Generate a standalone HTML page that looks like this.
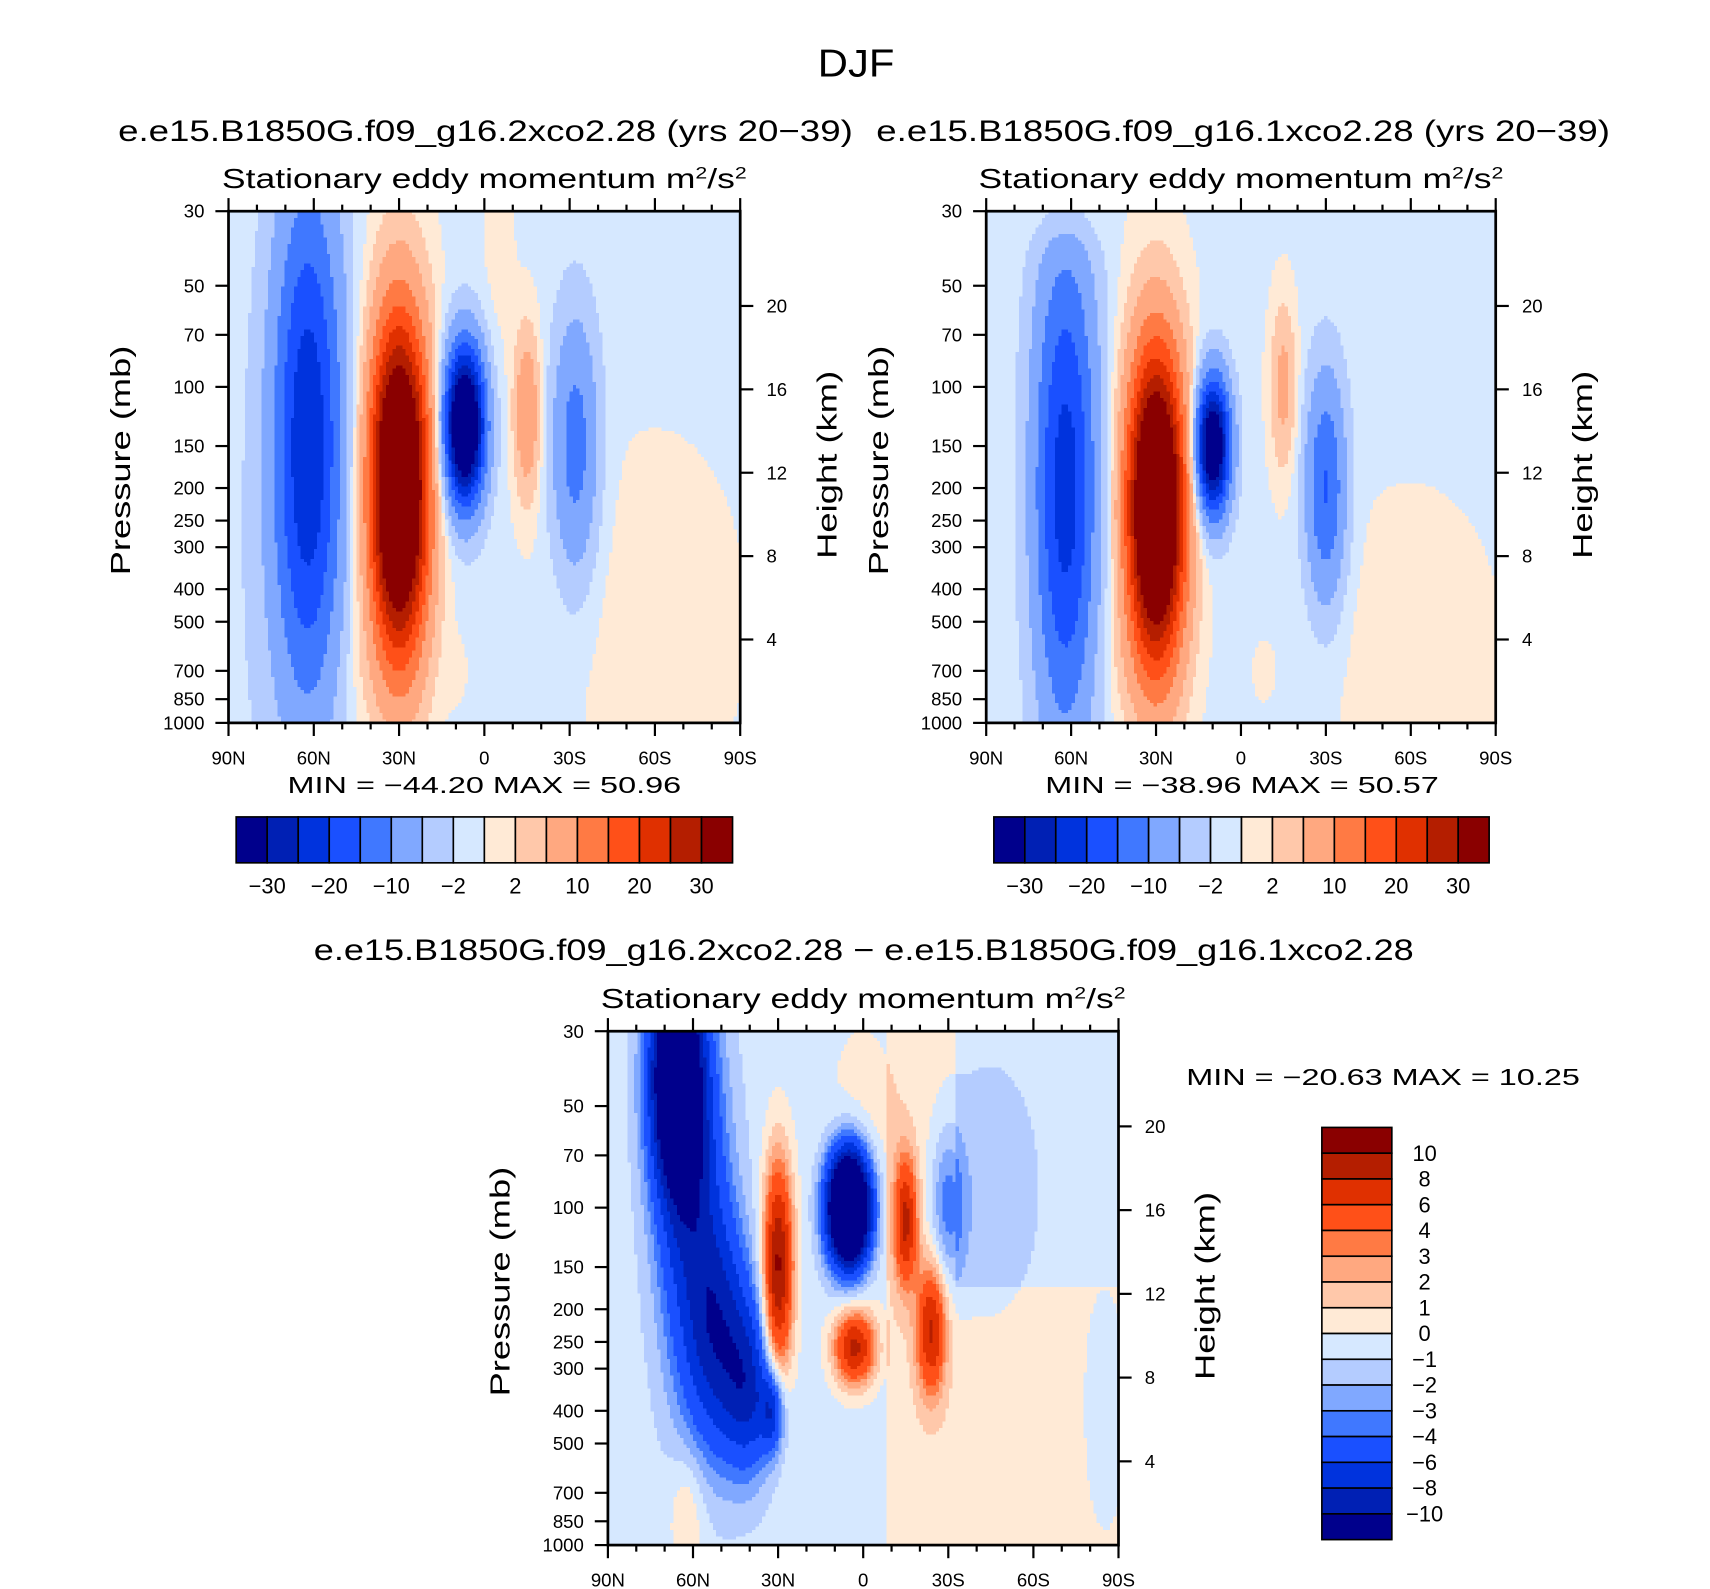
<!DOCTYPE html>
<html><head><meta charset="utf-8"><style>
html,body{margin:0;padding:0;background:#fff;}
svg{display:block;font-family:"Liberation Sans",sans-serif;}
</style></head><body>
<svg id="fig" width="1710" height="1589" viewBox="0 0 1564 1453">
<rect x="0" y="0" width="1564" height="1453" fill="#fff"/>
<text x="783" y="70" font-size="36" text-anchor="middle" textLength="70" lengthAdjust="spacingAndGlyphs">DJF</text>
<g id="panels"></g>
</svg>
<script>
// ---- data ----
const colors = ["#00008c","#0020b4","#0033dd","#1a50ff","#4078ff","#80a8ff","#b4ccff","#d6e8ff","#ffead6","#ffc8aa","#ffa880","#ff7a44","#ff5018","#e03000","#b41e00","#8a0000"];
const levelsTop = [-30,-25,-20,-15,-10,-5,-2,0,2,5,10,15,20,25,30];
const levelsDiff = [-10,-8,-6,-4,-3,-2,-1,0,1,2,3,4,6,8,10];
const topLabels = ["-30","-20","-10","-2","2","10","20","30"];
const diffLabels = ["10","8","6","4","3","2","1","0","-1","-2","-3","-4","-6","-8","-10"];
const latTicks = ["90N","60N","30N","0","30S","60S","90S"];
const presTicks = [30,50,70,100,150,200,250,300,400,500,700,850,1000];
const kmTicks = [20,16,12,8,4];
// Feature blobs: lat (deg N), pressure (mb), amplitude, lat half-width (deg), log-p half-width (fraction)
const lat2x = [62,30,7,-15,-32,-60,80,10,-5,45];
const p2x   = [150,200,130,120,150,500,400,700,40,700];
const amp2x = [-24,54,-46,10,-12,1.6,-1.2,1.2,1.2,1.0];
const slat2x= [12,10,7,4.5,8,30,12,4,6,8];
const sz2x  = [0.50,0.32,0.15,0.16,0.25,0.35,0.6,0.06,0.25,0.12];
const lat1x = [62,30,10,-15,-30,-60,62,-8,45];
const p1x   = [200,230,150,100,200,600,30,700,700];
const amp1x = [-22,54,-40,7,-15,1.6,4,1.2,1.0];
const slat1x= [11,10,6,4.5,7,30,12,4,8];
const sz1x  = [0.48,0.30,0.13,0.16,0.22,0.30,0.08,0.06,0.12];
const latD = [66,60,50,40,32,30,5,3,-15,-24,-30,0,-50,62,-45,-85];
const pD   = [40,100,250,350,400,150,100,260,110,230,100,70,400,800,100,400];
const ampD = [-16,-7,-7,-6,-6,11,-24,9,8,8,-3.5,1.3,0.3,1.8,-1.2,-1.0];
const slatD= [9,12,11,8,4,5,7.5,7,4,5,6,14,30,6,20,10];
const szD  = [0.22,0.35,0.22,0.16,0.08,0.2,0.11,0.07,0.12,0.12,0.15,0.25,0.4,0.12,0.3,0.3];
// ---- axis functions ----
const NS="http://www.w3.org/2000/svg";
function mk(tag,attrs,parent){const e=document.createElementNS(NS,tag);for(const k in attrs)e.setAttribute(k,attrs[k]);parent.appendChild(e);return e;}
const L0=Math.log(30),L1=Math.log(1000);
function zOf(p){return (Math.log(p)-L0)/(L1-L0);}
function field(lat,z,la,pa,am,sl,sz){let v=0;for(let i=0;i<la.length;i++){const dx=(lat-la[i])/sl[i],dz=(z-zOf(pa[i]))/sz[i];v+=am[i]*Math.exp(-dx*dx-dz*dz);}return v;}
function lev(v,levels){let k=0;while(k<levels.length&&v>=levels[k])k++;return k;}
const root=document.getElementById('panels');
function panel(name,X0,Y0,W,H,la,pa,am,sl,sz,levels,base){
  const g=mk('g',{},root);
  
  
  const xs=lat=>X0+(90-lat)/180*W, ys=p=>Y0+zOf(p)*H;
  const cg=mk('g',{'shape-rendering':'crispEdges'},g);
  
  
  const c=3;
  for(let y=0;y<H;y+=c){
    const z=(y+c/2)/H;let run=-1,start=0;
    for(let x=0;x<W+c;x+=c){
      let k=-2;
      if(x<W){const lat=90-Math.min(x+c/2,W)/W*180;k=lev(field(lat,z,la,pa,am,sl,sz)+base(lat,z),levels);}
      if(k!==run){if(run>=0){const r=mk('rect',{x:X0+start,y:Y0+y,width:Math.min(x,W)-start+0.4,height:Math.min(c,H-y)+0.4,fill:colors[run]},cg);
        
        }
        run=k;start=x;}
    }
  }
  mk('rect',{x:X0,y:Y0,width:W,height:H,fill:'none',stroke:'#000','stroke-width':2.5},g);
  for(let lat=90;lat>=-90;lat-=10){const x=xs(lat),maj=lat%30===0,l=maj?12:6;
    mk('line',{x1:x,x2:x,y1:Y0+H,y2:Y0+H+l,stroke:'#000','stroke-width':2},g);
    mk('line',{x1:x,x2:x,y1:Y0,y2:Y0-l,stroke:'#000','stroke-width':2},g);}
  latTicks.forEach((t,i)=>{const tx=mk('text',{x:X0+i/6*W,y:Y0+H+38,'font-size':17,'text-anchor':'middle'},g);tx.textContent=t;
    
    });
  presTicks.forEach(p=>{const y=ys(p);mk('line',{x1:X0-12,x2:X0,y1:y,y2:y,stroke:'#000','stroke-width':2},g);
    const tx=mk('text',{x:X0-22,y:y+6,'font-size':17,'text-anchor':'end'},g);tx.textContent=p;
    
    });
  kmTicks.forEach(k=>{const p=1000*Math.exp(-k/7);const y=ys(p);mk('line',{x1:X0+W,x2:X0+W+12,y1:y,y2:y,stroke:'#000','stroke-width':2},g);
    const tx=mk('text',{x:X0+W+24,y:y+6,'font-size':17},g);tx.textContent=k;
    
    });
  const yl=mk('text',{x:0,y:0,'font-size':25,'text-anchor':'middle',textLength:210,lengthAdjust:'spacingAndGlyphs',transform:`translate(${X0-90},${Y0+H/2-6}) rotate(-90)`},g);yl.textContent='Pressure  (mb)';
  
  
  const yr=mk('text',{x:0,y:0,'font-size':25,'text-anchor':'middle',textLength:172,lengthAdjust:'spacingAndGlyphs',transform:`translate(${X0+W+88},${Y0+H/2-2}) rotate(-90)`},g);yr.textContent='Height  (km)';
  
  
  const st=mk('text',{x:X0+W/2,y:Y0-21,'font-size':25,'text-anchor':'middle',textLength:480,lengthAdjust:'spacingAndGlyphs'},g);
  st.innerHTML='Stationary  eddy  momentum  m<tspan dy="-9" font-size="15">2</tspan><tspan dy="9">/s</tspan><tspan dy="-9" font-size="15">2</tspan>';
  
  
  return g;
}
function hbar(X0,Y0,W,H,labels){
  const g=mk('g',{},root);
  
  
  const bw=W/16;
  colors.forEach((c,i)=>{const r=mk('rect',{x:X0+i*bw,y:Y0,width:bw,height:H,fill:c,stroke:'#000','stroke-width':1.5},g);
    
    });
  labels.forEach((t,i)=>{const tx=mk('text',{x:X0+(2*i+1)*bw,y:Y0+H+28,'font-size':20,'text-anchor':'middle'},g);tx.textContent=t.replace('-','\u2212');
    
    });
}
function text(x,y,s,fs,anchor,name,len){const t=mk('text',{x:x,y:y,'font-size':fs,'text-anchor':anchor,textLength:len,lengthAdjust:'spacingAndGlyphs'},root);t.textContent=s;
  
  }
const bgTop=(lat,z)=>-0.5;
panel('panel-2xco2',209,193,468,468,lat2x,p2x,amp2x,slat2x,sz2x,levelsTop,bgTop);
panel('panel-1xco2',902,193,466,468,lat1x,p1x,amp1x,slat1x,sz1x,levelsTop,bgTop);
panel('panel-difference',556,943,467,470,latD,pD,ampD,slatD,szD,levelsDiff,(lat,z)=>(lat<-8? 0.5:-0.5)+(z<0.5&&lat<-32?-1.0:0));
text(444,129,'e.e15.B1850G.f09_g16.2xco2.28  (yrs  20\u221239)',27,'middle','panel-title-left',672);
text(1137,129,'e.e15.B1850G.f09_g16.1xco2.28  (yrs  20\u221239)',27,'middle','panel-title-right',671);
text(443,725,'MIN  =  \u221244.20    MAX  =    50.96',21,'middle','minmax-left',360);
text(1136,725,'MIN  =  \u221238.96    MAX  =    50.57',21,'middle','minmax-right',360);
text(790,878,'e.e15.B1850G.f09_g16.2xco2.28  \u2212  e.e15.B1850G.f09_g16.1xco2.28',27,'middle','diff-title',1006);
text(1265,992,'MIN  =  \u221220.63    MAX  =    10.25',21,'middle','minmax-diff',360);
hbar(216,747,454,42,topLabels);
hbar(909,747,453,42,topLabels);
(function(){const g=mk('g',{},root);
  
  
  const X0=1209,Y0=1031,W=64,H=377,bh=H/16;
  colors.slice().reverse().forEach((c,i)=>{const r=mk('rect',{x:X0,y:Y0+i*bh,width:W,height:bh,fill:c,stroke:'#000','stroke-width':1.5},g);
    
    });
  diffLabels.forEach((t,i)=>{const tx=mk('text',{x:X0+W+30,y:Y0+(i+1)*bh+7,'font-size':20,'text-anchor':'middle'},g);tx.textContent=t.replace('-','\u2212');
    
    });
})();
</script>
</body></html>
